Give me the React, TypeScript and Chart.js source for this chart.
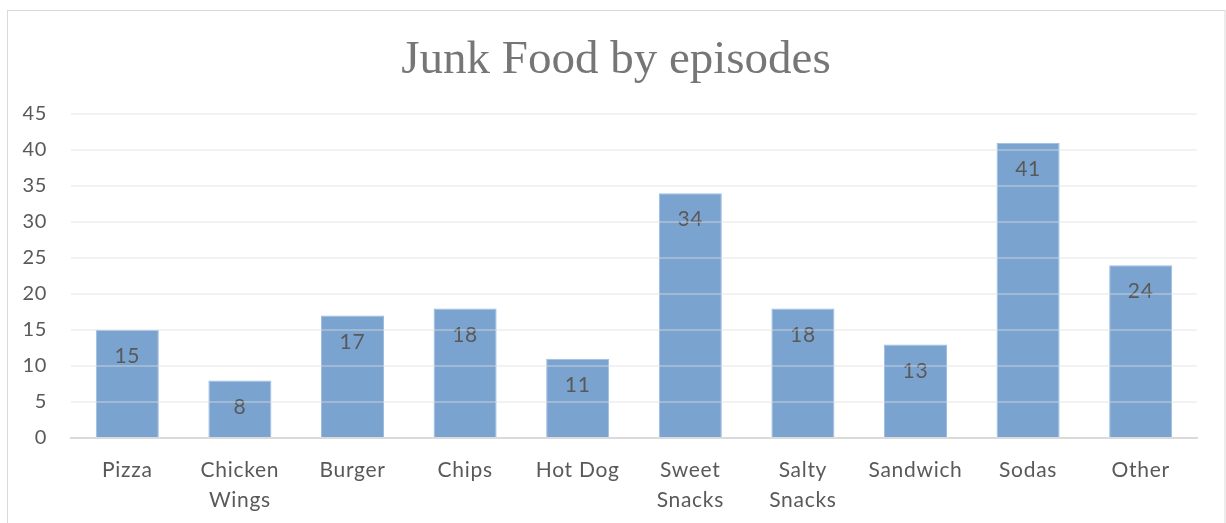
import React, { useEffect, useRef } from "react";
import { Chart, registerables } from "chart.js";

Chart.register(...registerables);

const categories: (string | string[])[] = [
  "Pizza",
  ["Chicken", "Wings"],
  "Burger",
  "Chips",
  "Hot Dog",
  ["Sweet", "Snacks"],
  ["Salty", "Snacks"],
  "Sandwich",
  "Sodas",
  "Other",
];
const episodes: number[] = [15, 8, 17, 18, 11, 34, 18, 13, 41, 24];
const yTicks: number[] = [0, 5, 10, 15, 20, 25, 30, 35, 40, 45];
const titleText = "Junk Food by episodes";

const TEXT_FONT = "Lato, 'Open Sans', sans-serif";
const TITLE_FONT = "'Liberation Serif', 'DejaVu Serif', serif";

const framePlugin = {
  id: "frame",
  beforeDraw(chart: any) {
    const ctx = chart.ctx;
    ctx.save();
    ctx.fillStyle = "#ffffff";
    ctx.fillRect(0, 0, chart.width, chart.height);
    ctx.strokeStyle = "#d9d9d9";
    ctx.lineWidth = 1;
    ctx.strokeRect(7.5, 10.5, chart.width - 8.5, chart.height + 10);
    (ctx as any).letterSpacing = "0px";
    ctx.fillStyle = "#767676";
    ctx.font = "47px " + TITLE_FONT;
    ctx.textAlign = "center";
    ctx.textBaseline = "alphabetic";
    ctx.fillText(titleText, 616, 73);
    ctx.restore();
    (ctx as any).letterSpacing = "0.7px";
  },
};

const valueLabelPlugin = {
  id: "valueLabels",
  afterDatasetsDraw(chart: any) {
    const ctx = chart.ctx;
    const meta = chart.getDatasetMeta(0);
    ctx.save();
    ctx.fillStyle = "#595959";
    ctx.font = "21px " + TEXT_FONT;
    ctx.textAlign = "center";
    ctx.textBaseline = "middle";
    meta.data.forEach((bar: any, i: number) => {
      ctx.fillText(String(episodes[i]), bar.x, bar.y + 26.5);
    });
    ctx.restore();
  },
};

export default function App() {
  const canvasRef = useRef<HTMLCanvasElement | null>(null);

  useEffect(() => {
    if (!canvasRef.current) return;
    const chart = new Chart(canvasRef.current, {
      type: "bar",
      data: {
        labels: categories,
        datasets: [
          {
            data: episodes,
            backgroundColor: "#7ba3cf",
            borderColor: "#9dbce0",
            borderWidth: 1,
            categoryPercentage: 1,
            barPercentage: 0.56,
          },
        ],
      },
      options: {
        animation: false,
        responsive: false,
        maintainAspectRatio: false,
        layout: { padding: { top: 114, right: 29, left: 0, bottom: 0 } },
        plugins: {
          legend: { display: false },
          title: { display: false },
          tooltip: { enabled: false },
        },
        scales: {
          x: {
            grid: { display: false, drawTicks: false },
            border: { display: true, color: "#d9d9d9", width: 2 },
            ticks: {
              color: "#595959",
              font: { family: TEXT_FONT, size: 21, lineHeight: 1.43 },
              padding: 17,
              maxRotation: 0,
              autoSkip: false,
            },
            afterFit(scale: any) {
              scale.height = 85;
            },
          },
          y: {
            min: 0,
            max: 45,
            afterBuildTicks(scale: any) {
              scale.ticks = yTicks.map((v) => ({ value: v }));
            },
            grid: {
              color: "rgba(220,220,220,0.38)",
              lineWidth: 2,
              drawTicks: false,
              z: 1,
            },
            border: { display: false },
            ticks: {
              color: "#595959",
              font: { family: TEXT_FONT, size: 20 },
              padding: 24,
            },
            afterFit(scale: any) {
              scale.width = 71;
            },
          },
        },
      },
      plugins: [framePlugin, valueLabelPlugin],
    });
    return () => chart.destroy();
  }, []);

  return (
    <div style={{ position: "absolute", left: 0, top: 0, width: 1226, height: 523 }}>
      <canvas ref={canvasRef} width={1226} height={523} style={{ display: "block" }} />
    </div>
  );
}
